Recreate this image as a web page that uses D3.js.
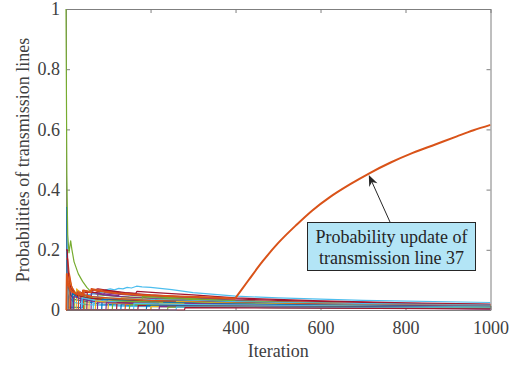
<!DOCTYPE html>
<html><head><meta charset="utf-8">
<script src="https://cdn.jsdelivr.net/npm/d3@7"></script>
<style>body{margin:0;background:#fff}svg{display:block}</style>
</head><body><svg id="c" width="515" height="366"></svg>
<script>
// ---- data ----
const xTicks = [200, 400, 600, 800, 1000];
const yTicks = [0, 0.2, 0.4, 0.6, 0.8, 1];
const xLabel = "Iteration";
const yLabel = "Probabilities of transmission lines";
const noteLines = ["Probability update of", "transmission line 37"];
const colors = ["#0072BD","#D95319","#EDB120","#7E2F8E","#77AC30","#4DBEEE","#A2142F"];

// [iteration, probability] key points per transmission line
const line01 = [[1,0.34],[3,0.34],[4,0.01],[40,0.008],[41,0.04],[60,0.032],[100,0.025],[200,0.02],[400,0.015],[700,0.01],[1000,0.008]];
const line02 = [[1,0.17],[5,0.17],[10,0.1],[15,0.075],[22,0.06],[30,0.05],[45,0.042],[70,0.035],[120,0.03],[250,0.025],[500,0.02],[1000,0.016]];
const line03 = [[1,0],[10,0],[11,0.09],[18,0.06],[30,0.045],[50,0.035],[100,0.028],[200,0.022],[400,0.017],[700,0.012],[1000,0.01]];
const line04 = [[1,0],[60,0],[61,0.055],[90,0.05],[91,0.058],[130,0.052],[200,0.044],[300,0.035],[500,0.022],[1000,0.005]];
const line05 = [[1,1],[3,0.45],[5,0.25],[8,0.19],[12,0.23],[15,0.2],[20,0.16],[30,0.12],[40,0.095],[50,0.075],[60,0.06],[80,0.05],[120,0.045],[200,0.04],[300,0.035],[400,0.03],[600,0.022],[800,0.017],[1000,0.013]];
const line06 = [[1,0],[30,0],[31,0.045],[92,0.06],[93,0.066],[105,0.07],[115,0.067],[125,0.072],[135,0.07],[145,0.075],[155,0.073],[167,0.079],[180,0.077],[200,0.075],[250,0.068],[300,0.058],[400,0.046],[500,0.04],[700,0.032],[1000,0.025]];
const line07 = [[1,0.2],[4,0.2],[6,0.13],[9,0.09],[14,0.065],[20,0.05],[28,0.045],[29,0.065],[40,0.055],[55,0.06],[76,0.07],[100,0.065],[140,0.058],[165,0.055],[168,0.062],[230,0.056],[300,0.05],[400,0.04],[600,0.03],[800,0.024],[1000,0.02]];
const line08 = [[1,0],[6,0],[7,0.08],[12,0.05],[20,0.035],[40,0.03],[80,0.02],[150,0.015],[300,0.012],[600,0.008],[1000,0.005]];
const line09 = [[1,0],[42,0],[43,0.065],[60,0.058],[61,0.068],[80,0.06],[81,0.068],[100,0.062],[150,0.052],[250,0.044],[400,0.032],[700,0.022],[1000,0.017]];
const line10 = [[1,0],[25,0],[26,0.07],[40,0.05],[70,0.04],[120,0.03],[250,0.02],[500,0.014],[1000,0.009]];
const line11 = [[1,0],[35,0],[36,0.05],[60,0.045],[61,0.06],[90,0.05],[150,0.042],[300,0.03],[600,0.018],[1000,0.01]];
const line12 = [[1,0],[20,0],[21,0.06],[40,0.045],[80,0.038],[150,0.035],[250,0.03],[400,0.025],[700,0.018],[1000,0.013]];
const line13 = [[1,0],[4,0],[5,0.07],[10,0.04],[20,0.025],[50,0.018],[150,0.012],[400,0.009],[1000,0.006]];
const line14 = [[1,0],[50,0],[51,0.06],[70,0.058],[95,0.065],[130,0.058],[200,0.05],[300,0.042],[500,0.032],[800,0.022],[1000,0.018]];
const line15 = [[1,0],[15,0],[16,0.055],[30,0.04],[60,0.03],[120,0.025],[200,0.028],[201,0.035],[300,0.03],[500,0.022],[1000,0.012]];
const line16 = [[1,0],[8,0],[9,0.12],[14,0.08],[20,0.06],[30,0.05],[31,0.06],[45,0.05],[60,0.045],[100,0.035],[200,0.028],[500,0.02],[1000,0.015]];
const line17 = [[1,0],[55,0],[56,0.045],[80,0.038],[130,0.03],[131,0.04],[200,0.035],[400,0.025],[700,0.018],[1000,0.014]];
const line18 = [[1,0],[75,0],[76,0.055],[110,0.05],[125,0.048],[126,0.056],[160,0.05],[230,0.045],[400,0.032],[700,0.018],[1000,0.008]];
const line19 = [[1,0],[45,0],[46,0.04],[90,0.035],[180,0.03],[181,0.045],[260,0.04],[400,0.03],[700,0.02],[1000,0.014]];
const line20 = [[1,0],[65,0],[66,0.045],[100,0.04],[180,0.035],[300,0.03],[500,0.025],[1000,0.016]];
const line21 = [[1,0],[12,0],[13,0.07],[25,0.05],[50,0.04],[90,0.035],[200,0.028],[500,0.02],[1000,0.012]];
const line22 = [[1,0],[85,0],[86,0.035],[140,0.03],[210,0.025],[211,0.032],[350,0.026],[600,0.018],[1000,0.011]];
const line23 = [[1,0],[30,0],[31,0.055],[55,0.045],[100,0.04],[200,0.032],[400,0.024],[700,0.018],[1000,0.015]];
const line24 = [[1,0],[100,0],[101,0.03],[160,0.025],[260,0.02],[261,0.028],[400,0.022],[700,0.015],[1000,0.01]];
const line25 = [[1,0],[18,0],[19,0.045],[40,0.035],[80,0.025],[160,0.02],[350,0.015],[700,0.01],[1000,0.006]];
const line26 = [[1,0],[110,0],[111,0.03],[170,0.028],[270,0.024],[450,0.02],[750,0.015],[1000,0.012]];
const line27 = [[1,0],[38,0],[39,0.04],[70,0.032],[140,0.025],[300,0.02],[600,0.017],[1000,0.014]];
const line28 = [[1,0],[120,0],[121,0.025],[200,0.022],[300,0.02],[500,0.017],[1000,0.012]];
const line29 = [[1,0],[130,0],[131,0.02],[230,0.018],[231,0.025],[400,0.02],[700,0.014],[1000,0.01]];
const line30 = [[1,0],[140,0],[141,0.02],[250,0.017],[400,0.015],[700,0.012],[1000,0.009]];
const line31 = [[1,0],[70,0],[71,0.03],[120,0.022],[220,0.016],[221,0.022],[400,0.016],[1000,0.008]];
const line32 = [[1,0],[95,0],[96,0.025],[180,0.02],[280,0.016],[281,0.022],[450,0.016],[700,0.01],[1000,0.004]];
const line33 = [[1,0],[150,0],[151,0.018],[260,0.016],[500,0.013],[1000,0.009]];
const line34 = [[1,0],[160,0],[161,0.022],[300,0.018],[600,0.014],[1000,0.01]];
const line35 = [[1,0],[170,0],[171,0.015],[320,0.013],[600,0.011],[1000,0.007]];
const line36 = [[1,0],[190,0],[191,0.015],[350,0.012],[700,0.01],[1000,0.008]];
const line37 = [[1,0],[2,0],[3,0.12],[6,0.09],[10,0.07],[16,0.06],[25,0.055],[40,0.05],[41,0.065],[60,0.06],[61,0.07],[85,0.062],[120,0.056],[180,0.05],[250,0.046],[330,0.042],[399,0.038],[430,0.098],[464,0.162],[500,0.222],[545,0.285],[580,0.33],[622,0.375],[670,0.418],[716,0.455],[765,0.49],[817,0.522],[870,0.55],[921,0.577],[960,0.597],[1000,0.615]];
const line38 = [[1,0],[200,0],[201,0.012],[400,0.01],[1000,0.006]];
const line39 = [[1,0],[220,0],[221,0.012],[450,0.01],[1000,0.004]];
const line40 = [[1,0],[240,0],[241,0.01],[500,0.008],[1000,0.006]];
const line41 = [[1,0],[260,0],[261,0.01],[550,0.008],[1000,0.006]];
const line42 = [[1,0],[280,0],[281,0.008],[600,0.006],[1000,0.004]];

const allLines = [line01,line02,line03,line04,line05,line06,line07,line08,line09,line10,line11,line12,line13,line14,line15,line16,line17,line18,line19,line20,line21,line22,line23,line24,line25,line26,line27,line28,line29,line30,line31,line32,line33,line34,line35,line36,line37,line38,line39,line40,line41,line42];

// ---- drawing ----
const svg = d3.select("#c");
const L = 66, R = 490.5, T = 9, B = 310;
const x = d3.scaleLinear().domain([1, 1000]).range([L, R]);
const y = d3.scaleLinear().domain([0, 1]).range([B, T]);
const font = "'Liberation Serif','Times New Roman',serif";
const txt = "#404040";

svg.append("rect").attr("x", L).attr("y", T).attr("width", R - L).attr("height", B - T).attr("fill", "#fff");

// axes (drawn first, data on top)
const axCol = "#7f7f7f";
const fmt = d => String(d);
const xb = svg.append("g").attr("transform", `translate(0,${B})`)
  .call(d3.axisBottom(x).tickValues(xTicks).tickSize(-4).tickFormat(fmt).tickSizeOuter(0));
const xt = svg.append("g").attr("transform", `translate(0,${T})`)
  .call(d3.axisTop(x).tickValues(xTicks).tickSize(-4).tickFormat("").tickSizeOuter(0));
const yl = svg.append("g").attr("transform", `translate(${L},0)`)
  .call(d3.axisLeft(y).tickValues(yTicks).tickSize(-4).tickFormat(fmt).tickSizeOuter(0));
const yr = svg.append("g").attr("transform", `translate(${R},0)`)
  .call(d3.axisRight(y).tickValues(yTicks).tickSize(-4).tickFormat("").tickSizeOuter(0));
[xb, xt, yl, yr].forEach(a => {
  a.selectAll("path.domain").attr("stroke", axCol).attr("stroke-width", 1);
  a.selectAll(".tick line").attr("stroke", axCol);
  a.selectAll("text").attr("fill", txt).style("font-family", font).style("font-size", "18px");
});
xb.selectAll("text").attr("dy", "0.71em").attr("y", 11);
yl.selectAll("text").attr("x", -6);

svg.append("clipPath").attr("id", "clp").append("rect")
  .attr("x", L - 1).attr("y", T - 1).attr("width", R - L + 1).attr("height", B - T + 1.5);

const lineGen = d3.line().x(d => x(d[0])).y(d => y(d[1]));
const g = svg.append("g").attr("clip-path", "url(#clp)");
allLines.forEach((pts, i) => {
  if (i === 36) return;
  g.append("path").attr("d", lineGen(pts)).attr("fill", "none")
    .attr("stroke", colors[i % 7]).attr("stroke-width", 1.2).attr("stroke-linejoin", "round");
});
const smoothGen = d3.line().x(d => x(d[0])).y(d => y(d[1])).curve(d3.curveMonotoneX);
g.append("path").attr("d", lineGen(line37.filter(d => d[0] <= 399))).attr("fill", "none")
  .attr("stroke", colors[36 % 7]).attr("stroke-width", 2).attr("stroke-linejoin", "round");
g.append("path").attr("d", smoothGen(line37.filter(d => d[0] >= 399))).attr("fill", "none")
  .attr("stroke", colors[36 % 7]).attr("stroke-width", 2).attr("stroke-linejoin", "round");

svg.append("text").attr("x", (L + R) / 2).attr("y", 357).attr("text-anchor", "middle")
  .attr("fill", txt).style("font-family", font).style("font-size", "18px").text(xLabel);
svg.append("text").attr("transform", `translate(29,160) rotate(-90)`).attr("text-anchor", "middle")
  .attr("fill", txt).style("font-family", font).style("font-size", "18px").text(yLabel);

// annotation
const tipX = x(716) - 1, tipY = y(0.455) + 2;
const baseX = 390, baseY = 222;
const ang = Math.atan2(tipY - baseY, tipX - baseX);
svg.append("line").attr("x1", baseX).attr("y1", baseY).attr("x2", tipX - 6 * Math.cos(ang)).attr("y2", tipY - 6 * Math.sin(ang))
  .attr("stroke", "#262626").attr("stroke-width", 1);
const hl = 11, hw = 4.5, back = 7.5;
const ux = Math.cos(ang), uy = Math.sin(ang), px = -uy, py = ux;
const head = [
  [tipX, tipY],
  [tipX - hl * ux + hw * px, tipY - hl * uy + hw * py],
  [tipX - back * ux, tipY - back * uy],
  [tipX - hl * ux - hw * px, tipY - hl * uy - hw * py]
];
svg.append("path").attr("d", d3.line()(head) + "Z").attr("fill", "#262626");

svg.append("rect").attr("x", 307.5).attr("y", 222.5).attr("width", 168).attr("height", 48)
  .attr("fill", "#b3e5f6").attr("stroke", "#262626").attr("stroke-width", 1);
noteLines.forEach((t, i) => {
  svg.append("text").attr("x", 391.5).attr("y", 243 + i * 21).attr("text-anchor", "middle")
    .attr("fill", "#262626").style("font-family", font).style("font-size", "18px").text(t);
});
</script></body></html>
